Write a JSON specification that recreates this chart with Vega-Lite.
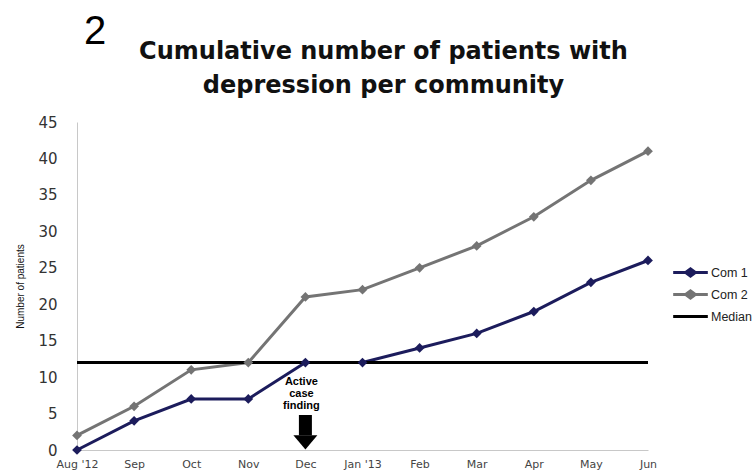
{
  "$schema": "https://vega.github.io/schema/vega-lite/v6.json",
  "autosize": "none",
  "width": 571,
  "height": 328,
  "padding": {"left": 77, "top": 122, "right": 105, "bottom": 26},
  "background": "white",
  "config": {
    "view": {"stroke": null},
    "axisY": {
      "tickCount": 10,
      "titleFont": "Liberation Sans",
      "titleFontSize": 10,
      "titleFontWeight": "normal",
      "titleColor": "#111111",
      "titlePadding": 12,
      "labelFont": "DejaVu Sans",
      "labelFontSize": 15,
      "labelColor": "#333333",
      "labelPadding": 20,
      "ticks": false,
      "grid": false,
      "domainColor": "#c8c8c8",
      "domainWidth": 1
    }
  },
  "title": {
    "text": ["Cumulative number of patients with", "depression per community"],
    "font": "DejaVu Sans",
    "fontSize": 24,
    "fontWeight": "bold",
    "color": "#111111",
    "anchor": "middle",
    "baseline": "bottom",
    "dx": 21,
    "offset": -110,
    "lineHeight": 34
  },
  "datasets": {
    "series": [
      {"month": "Aug '12", "series": "Com 1", "patients": 0},
      {"month": "Sep", "series": "Com 1", "patients": 4},
      {"month": "Oct", "series": "Com 1", "patients": 7},
      {"month": "Nov", "series": "Com 1", "patients": 7},
      {"month": "Dec", "series": "Com 1", "patients": 12},
      {"month": "Jan '13", "series": "Com 1", "patients": 12},
      {"month": "Feb", "series": "Com 1", "patients": 14},
      {"month": "Mar", "series": "Com 1", "patients": 16},
      {"month": "Apr", "series": "Com 1", "patients": 19},
      {"month": "May", "series": "Com 1", "patients": 23},
      {"month": "Jun", "series": "Com 1", "patients": 26},
      {"month": "Aug '12", "series": "Com 2", "patients": 2},
      {"month": "Sep", "series": "Com 2", "patients": 6},
      {"month": "Oct", "series": "Com 2", "patients": 11},
      {"month": "Nov", "series": "Com 2", "patients": 12},
      {"month": "Dec", "series": "Com 2", "patients": 21},
      {"month": "Jan '13", "series": "Com 2", "patients": 22},
      {"month": "Feb", "series": "Com 2", "patients": 25},
      {"month": "Mar", "series": "Com 2", "patients": 28},
      {"month": "Apr", "series": "Com 2", "patients": 32},
      {"month": "May", "series": "Com 2", "patients": 37},
      {"month": "Jun", "series": "Com 2", "patients": 41},
      {"month": "Aug '12", "series": "Median", "patients": 12},
      {"month": "Sep", "series": "Median", "patients": 12},
      {"month": "Oct", "series": "Median", "patients": 12},
      {"month": "Nov", "series": "Median", "patients": 12},
      {"month": "Dec", "series": "Median", "patients": 12},
      {"month": "Jan '13", "series": "Median", "patients": 12},
      {"month": "Feb", "series": "Median", "patients": 12},
      {"month": "Mar", "series": "Median", "patients": 12},
      {"month": "Apr", "series": "Median", "patients": 12},
      {"month": "May", "series": "Median", "patients": 12},
      {"month": "Jun", "series": "Median", "patients": 12}
    ],
    "notes": [
      {"month": "Aug '12", "patients": 57.3, "label": "2", "kind": "panel"},
      {"month": "Dec", "patients": 10.2, "label": "Active\ncase\nfinding", "kind": "annot"}
    ],
    "arrow": [
      {"month": "Dec", "top": 4.8, "bottom": 2.0, "tip": 1.05}
    ]
  },
  "encoding": {
    "x": {
      "field": "month",
      "type": "ordinal",
      "sort": null,
      "scale": {"type": "point", "padding": 0, "domain": ["Aug '12", "Sep", "Oct", "Nov", "Dec", "Jan '13", "Feb", "Mar", "Apr", "May", "Jun"]},
      "axis": {
        "title": null,
        "labelAngle": 0,
        "labelFont": "DejaVu Sans",
        "labelFontSize": 11,
        "labelColor": "#444444",
        "labelPadding": 8,
        "ticks": false,
        "domainColor": "#c8c8c8",
        "domainWidth": 1,
        "grid": false
      }
    }
  },
  "layer": [
    {
      "data": {"name": "series"},
      "mark": {"type": "line", "strokeWidth": 3},
      "encoding": {
        "y": {
          "field": "patients",
          "type": "quantitative",
          "scale": {"domain": [0, 45], "nice": false, "zero": true},
          "axis": {"title": "Number of patients"}
        },
        "color": {
          "field": "series",
          "type": "nominal",
          "scale": {"domain": ["Com 1", "Com 2", "Median"], "range": ["#1c1c5c", "#747474", "#000000"]},
          "legend": {
            "title": null,
            "orient": "none",
            "legendX": 603,
            "legendY": 140,
            "labelFont": "Liberation Sans",
            "labelFontSize": 12.5,
            "labelColor": "#222222",
            "labelOffset": 10,
            "rowPadding": 1,
            "symbolSize": 300,
            "symbolStrokeWidth": 3,
            "symbolType": "M-2,0L2,0",
            "encode": {
              "symbols": {
                "update": {
                  "shape": {"signal": "datum.value === 'Median' ? 'M-2,0L2,0' : 'M-2,0L2,0M-0.56,0L0,-0.42L0.56,0L0,0.42Z'"},
                  "fill": {"signal": "datum.value === 'Median' ? 'transparent' : scale('color', datum.value)"}
                }
              }
            }
          }
        }
      }
    },
    {
      "data": {"name": "series"},
      "transform": [{"filter": "datum.series !== 'Median'"}],
      "mark": {"type": "point", "shape": "diamond", "filled": true, "size": 95, "opacity": 1},
      "encoding": {
        "y": {"field": "patients", "type": "quantitative"},
        "color": {"field": "series", "type": "nominal", "legend": null}
      }
    },
    {
      "data": {"name": "arrow"},
      "mark": {"type": "rule", "strokeWidth": 13, "color": "#000000"},
      "encoding": {
        "y": {"field": "top", "type": "quantitative"},
        "y2": {"field": "bottom"}
      }
    },
    {
      "data": {"name": "arrow"},
      "mark": {"type": "point", "shape": "M-1,-0.6L1,-0.6L0,0.6Z", "filled": true, "size": 576, "color": "#000000", "opacity": 1},
      "encoding": {
        "y": {"field": "tip", "type": "quantitative"}
      }
    },
    {
      "data": {"name": "notes"},
      "transform": [{"filter": "datum.kind === 'annot'"}],
      "mark": {"type": "text", "font": "Liberation Sans", "fontSize": 11, "fontWeight": "bold", "lineBreak": "\n", "lineHeight": 12, "baseline": "top", "align": "center", "dx": -4, "color": "#000000"},
      "encoding": {
        "y": {"field": "patients", "type": "quantitative"},
        "text": {"field": "label"}
      }
    },
    {
      "data": {"name": "notes"},
      "transform": [{"filter": "datum.kind === 'panel'"}],
      "mark": {"type": "text", "font": "Liberation Sans", "fontSize": 40, "align": "center", "baseline": "middle", "dx": 18, "color": "#000000"},
      "encoding": {
        "y": {"field": "patients", "type": "quantitative"},
        "text": {"field": "label"}
      }
    }
  ]
}
